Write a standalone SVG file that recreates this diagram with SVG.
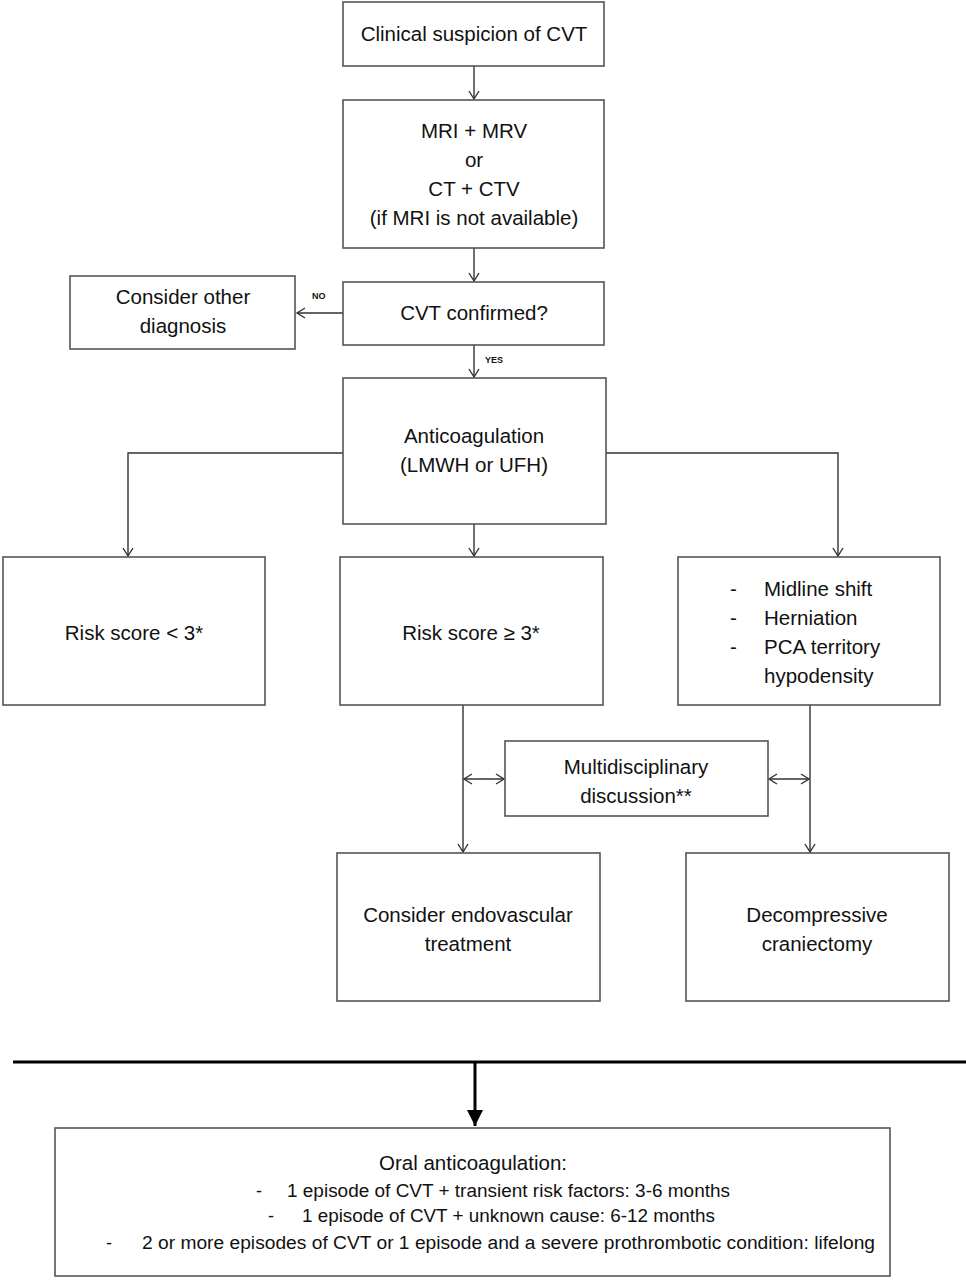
<svg xmlns="http://www.w3.org/2000/svg" width="966" height="1280" viewBox="0 0 966 1280">
<style>
.box{fill:#fff;stroke:#555;stroke-width:1.6}
.t{font-family:"Liberation Sans",Arial,sans-serif;font-size:20.5px;fill:#111;text-anchor:middle}
.l{text-anchor:start}
.s{font-family:"Liberation Sans",Arial,sans-serif;font-size:18px;fill:#111}
.lbl{font-family:"Liberation Sans",Arial,sans-serif;font-size:9px;font-weight:bold;fill:#111}
.c{fill:none;stroke:#333;stroke-width:1.4}
</style>
<defs>
<marker id="a" markerWidth="12" markerHeight="12" refX="10" refY="6" orient="auto" markerUnits="userSpaceOnUse">
<path d="M2,1 L10,6 L2,11" fill="none" stroke="#333" stroke-width="1.4"/>
</marker>
<marker id="as" markerWidth="12" markerHeight="12" refX="2" refY="6" orient="auto" markerUnits="userSpaceOnUse">
<path d="M10,1 L2,6 L10,11" fill="none" stroke="#333" stroke-width="1.4"/>
</marker>
<marker id="big" markerWidth="20" markerHeight="20" refX="16" refY="8" orient="auto" markerUnits="userSpaceOnUse">
<path d="M0,0 L16,8 L0,16 Z" fill="#000"/>
</marker>
</defs>
<rect width="966" height="1280" fill="#fff"/>
<g id="connectors">
<line class="c" x1="474" y1="66" x2="474" y2="99" marker-end="url(#a)"/>
<line class="c" x1="474" y1="248" x2="474" y2="281" marker-end="url(#a)"/>
<line class="c" x1="343" y1="313" x2="297" y2="313" marker-end="url(#a)"/>
<text class="lbl" x="312" y="299">NO</text>
<line class="c" x1="474" y1="345" x2="474" y2="377" marker-end="url(#a)"/>
<text class="lbl" x="485" y="363">YES</text>
<polyline class="c" points="343,453 128,453 128,556" marker-end="url(#a)"/>
<polyline class="c" points="606,453 838,453 838,556" marker-end="url(#a)"/>
<line class="c" x1="474" y1="524" x2="474" y2="556" marker-end="url(#a)"/>
<line class="c" x1="463" y1="705" x2="463" y2="852" marker-end="url(#a)"/>
<line class="c" x1="810" y1="705" x2="810" y2="852" marker-end="url(#a)"/>
<line class="c" x1="464" y1="779" x2="504" y2="779" marker-start="url(#as)" marker-end="url(#a)"/>
<line class="c" x1="769" y1="779" x2="809" y2="779" marker-start="url(#as)" marker-end="url(#a)"/>
<line x1="13" y1="1062" x2="966" y2="1062" stroke="#000" stroke-width="3"/>
<line x1="475" y1="1062" x2="475" y2="1126" stroke="#000" stroke-width="3" marker-end="url(#big)"/>
</g>
<g id="n1"><rect class="box" x="343" y="2" width="261" height="64"/><text class="t" x="474" y="41">Clinical suspicion of CVT</text></g>
<g id="n2"><rect class="box" x="343" y="100" width="261" height="148"/>
<text class="t" x="474" y="138">MRI + MRV</text><text class="t" x="474" y="167">or</text><text class="t" x="474" y="196">CT + CTV</text><text class="t" x="474" y="225">(if MRI is not available)</text></g>
<g id="n3"><rect class="box" x="343" y="282" width="261" height="63"/><text class="t" x="474" y="320">CVT confirmed?</text></g>
<g id="n4"><rect class="box" x="70" y="276" width="225" height="73"/><text class="t" x="183" y="304">Consider other</text><text class="t" x="183" y="333">diagnosis</text></g>
<g id="n5"><rect class="box" x="343" y="378" width="263" height="146"/><text class="t" x="474" y="443">Anticoagulation</text><text class="t" x="474" y="472">(LMWH or UFH)</text></g>
<g id="n6"><rect class="box" x="3" y="557" width="262" height="148"/><text class="t" x="134" y="640">Risk score &lt; 3*</text></g>
<g id="n7"><rect class="box" x="340" y="557" width="263" height="148"/><text class="t" x="471" y="640">Risk score ≥ 3*</text></g>
<g id="n8"><rect class="box" x="678" y="557" width="262" height="148"/>
<text class="t l" x="730" y="596">-</text><text class="t l" x="764" y="596">Midline shift</text>
<text class="t l" x="730" y="625">-</text><text class="t l" x="764" y="625">Herniation</text>
<text class="t l" x="730" y="654">-</text><text class="t l" x="764" y="654">PCA territory</text>
<text class="t l" x="764" y="683">hypodensity</text></g>
<g id="n9"><rect class="box" x="505" y="741" width="263" height="75"/><text class="t" x="636" y="774">Multidisciplinary</text><text class="t" x="636" y="803">discussion**</text></g>
<g id="n10"><rect class="box" x="337" y="853" width="263" height="148"/><text class="t" x="468" y="922">Consider endovascular</text><text class="t" x="468" y="951">treatment</text></g>
<g id="n11"><rect class="box" x="686" y="853" width="263" height="148"/><text class="t" x="817" y="922">Decompressive</text><text class="t" x="817" y="951">craniectomy</text></g>
<g id="n12"><rect class="box" x="55" y="1128" width="835" height="148"/>
<text class="t" x="473" y="1170">Oral anticoagulation:</text>
<text class="s" x="256" y="1197">-</text><text class="s" x="287" y="1197" textLength="443" lengthAdjust="spacingAndGlyphs">1 episode of CVT + transient risk factors: 3-6 months</text>
<text class="s" x="268" y="1222">-</text><text class="s" x="302" y="1222" textLength="413" lengthAdjust="spacingAndGlyphs">1 episode of CVT + unknown cause: 6-12 months</text>
<text class="s" x="106" y="1249">-</text><text class="s" x="142" y="1249" textLength="733" lengthAdjust="spacingAndGlyphs">2 or more episodes of CVT or 1 episode and a severe prothrombotic condition: lifelong</text>
</g>
</svg>
